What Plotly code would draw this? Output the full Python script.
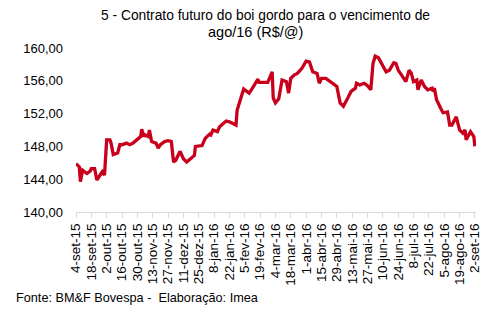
import plotly.graph_objects as go

dates = [
    "2015-09-04", "2015-09-07", "2015-09-08", "2015-09-10", "2015-09-14", "2015-09-17", "2015-09-18",
    "2015-09-21", "2015-09-23", "2015-09-25", "2015-09-28", "2015-09-30", "2015-10-02", "2015-10-05",
    "2015-10-06", "2015-10-08", "2015-10-12", "2015-10-14", "2015-10-16", "2015-10-20", "2015-10-23",
    "2015-10-26", "2015-10-29", "2015-11-02", "2015-11-03", "2015-11-05", "2015-11-06", "2015-11-09",
    "2015-11-10", "2015-11-12", "2015-11-16", "2015-11-18", "2015-11-20", "2015-11-24", "2015-11-27",
    "2015-11-30", "2015-12-02", "2015-12-04", "2015-12-08", "2015-12-11", "2015-12-14", "2015-12-17",
    "2015-12-21", "2015-12-22", "2015-12-28", "2015-12-29", "2015-12-31", "2016-01-04", "2016-01-05",
    "2016-01-07", "2016-01-11", "2016-01-13", "2016-01-15", "2016-01-19", "2016-01-22", "2016-01-25",
    "2016-01-28", "2016-01-29", "2016-02-02", "2016-02-04", "2016-02-05", "2016-02-09", "2016-02-12",
    "2016-02-17", "2016-02-18", "2016-02-22", "2016-02-26", "2016-03-01", "2016-03-02", "2016-03-04",
    "2016-03-07", "2016-03-09", "2016-03-10", "2016-03-14", "2016-03-16", "2016-03-18", "2016-03-21",
    "2016-03-24", "2016-03-28", "2016-04-01", "2016-04-04", "2016-04-07", "2016-04-11", "2016-04-13",
    "2016-04-15", "2016-04-19", "2016-04-25", "2016-04-27", "2016-04-29", "2016-05-02", "2016-05-05",
    "2016-05-09", "2016-05-12", "2016-05-16", "2016-05-17", "2016-05-20", "2016-05-24", "2016-05-27",
    "2016-05-30", "2016-06-01", "2016-06-03", "2016-06-06", "2016-06-10", "2016-06-13", "2016-06-16",
    "2016-06-20", "2016-06-22", "2016-06-24", "2016-06-28", "2016-07-01", "2016-07-04", "2016-07-06",
    "2016-07-08", "2016-07-11", "2016-07-12", "2016-07-15", "2016-07-18", "2016-07-21", "2016-07-25",
    "2016-07-26", "2016-07-27", "2016-07-29", "2016-08-02", "2016-08-04", "2016-08-08", "2016-08-09",
    "2016-08-10", "2016-08-12", "2016-08-16", "2016-08-19", "2016-08-22", "2016-08-24", "2016-08-25",
    "2016-08-29", "2016-08-31", "2016-09-01", "2016-09-02",
]

prices = [
    145.9, 145.5, 143.7, 145.1, 144.7, 145.0, 145.3,
    145.3, 143.9, 144.3, 144.9, 144.5, 148.8, 148.8,
    148.4, 147.0, 147.2, 148.2, 148.2, 148.4, 148.2,
    148.4, 148.8, 149.2, 150.1, 149.2, 149.4, 149.2,
    150.0, 148.6, 148.4, 147.8, 148.2, 148.6, 148.7,
    148.6, 146.1, 146.3, 147.4, 146.5, 146.1, 146.5,
    146.9, 148.0, 148.1, 148.4, 149.0, 149.5, 149.4,
    150.0, 149.8, 150.4, 150.6, 151.1, 151.0, 150.8,
    150.6, 152.4, 154.3, 155.0, 154.9, 154.5, 155.1,
    156.2, 155.8, 155.8, 155.8, 157.1, 153.9, 153.3,
    153.8, 155.3, 156.1, 155.9, 154.5, 156.3, 156.7,
    156.9, 157.5, 158.4, 158.3, 157.1, 156.9, 155.7,
    156.3, 156.3, 155.7, 155.5, 155.3, 153.3, 152.9,
    153.9, 154.7, 155.1, 155.7, 155.5, 155.7, 155.4,
    154.9, 158.1, 159.0, 158.8, 157.7, 157.1, 157.3,
    158.2, 158.1, 157.3, 156.5, 155.9, 157.3, 156.9,
    155.9, 156.1, 154.9, 156.1, 155.3, 154.9, 155.1,
    154.7, 155.1, 153.7, 152.6, 152.1, 152.2, 151.5,
    150.6, 150.6, 151.6, 150.0, 149.6, 150.0, 148.8,
    149.8, 149.4, 149.2, 148.0,
]

tick_dates = [
    "2015-09-04", "2015-09-18", "2015-10-02", "2015-10-16", "2015-10-30", "2015-11-13", "2015-11-27",
    "2015-12-11", "2015-12-25", "2016-01-08", "2016-01-22", "2016-02-05", "2016-02-19", "2016-03-04",
    "2016-03-18", "2016-04-01", "2016-04-15", "2016-04-29", "2016-05-13", "2016-05-27", "2016-06-10",
    "2016-06-24", "2016-07-08", "2016-07-22", "2016-08-05", "2016-08-19", "2016-09-02",
]
tick_labels = [
    "4-set-15", "18-set-15", "2-out-15", "16-out-15", "30-out-15", "13-nov-15", "27-nov-15",
    "11-dez-15", "25-dez-15", "8-jan-16", "22-jan-16", "5-fev-16", "19-fev-16", "4-mar-16",
    "18-mar-16", "1-abr-16", "15-abr-16", "29-abr-16", "13-mai-16", "27-mai-16", "10-jun-16",
    "24-jun-16", "8-jul-16", "22-jul-16", "5-ago-16", "19-ago-16", "2-set-16",
]
y_ticks = [140, 144, 148, 152, 156, 160]

title_line1 = "5 - Contrato futuro do boi gordo para o vencimento de"
title_line2 = "ago/16 (R$/@)"
footer = "Fonte: BM&F Bovespa -  Elaboração: Imea"

FONT = "Liberation Sans, Arial, sans-serif"

fig = go.Figure()
fig.add_trace(go.Scatter(
    x=dates, y=prices, mode="lines",
    line=dict(color="#C8001C", width=3.3),
    showlegend=False,
))

fig.update_layout(
    width=496, height=322,
    margin=dict(l=76, r=20, t=48, b=110),
    paper_bgcolor="white", plot_bgcolor="white",
    separators=",.",
    font=dict(family=FONT, size=13, color="black"),
    xaxis=dict(
        type="date",
        range=["2015-09-04", "2016-09-03"],
        tickvals=tick_dates, ticktext=tick_labels,
        tickangle=-90,
        showgrid=False, zeroline=False,
        showline=True, linecolor="#d9d9d9", linewidth=1,
        ticks="outside", ticklen=5, tickcolor="#d9d9d9",
        tickfont=dict(family=FONT, size=13.5, color="black"),
    ),
    yaxis=dict(
        range=[140, 160],
        tickvals=y_ticks, tickformat=".2f",
        showgrid=False, zeroline=False, showline=False,
        ticks="", ticklabelstandoff=12,
        tickfont=dict(family=FONT, size=13, color="black"),
    ),
    annotations=[
        dict(text=title_line1, xref="paper", yref="paper", x=0.4725, y=1.201,
             xanchor="center", yanchor="middle", showarrow=False,
             font=dict(family=FONT, size=13.8, color="black")),
        dict(text=title_line2, xref="paper", yref="paper", x=0.449, y=1.0976,
             xanchor="center", yanchor="middle", showarrow=False,
             font=dict(family=FONT, size=14.5, color="black")),
        dict(text=footer, xref="paper", yref="paper", x=-0.155, y=-0.524,
             xanchor="left", yanchor="middle", showarrow=False,
             font=dict(family=FONT, size=12.7, color="black")),
    ],
)

fig.write_html("out.html")
